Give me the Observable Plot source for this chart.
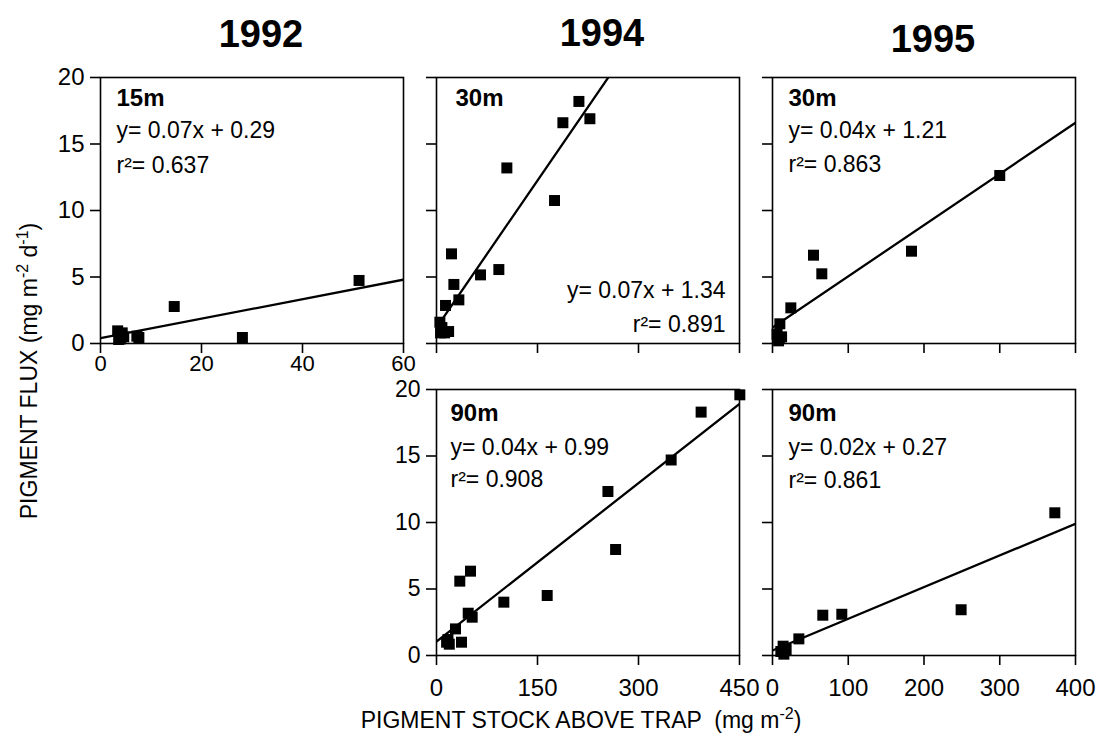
<!DOCTYPE html>
<html>
<head>
<meta charset="utf-8">
<script src="https://cdn.jsdelivr.net/npm/d3@7"></script>
<script src="https://cdn.jsdelivr.net/npm/@observablehq/plot@0.6"></script>
<style>
  html, body { margin: 0; padding: 0; background: #fff; }
  #wrap { position: relative; width: 1096px; height: 744px; overflow: hidden; background: #fff; }
  #wrap > svg { position: absolute; }
</style>
</head>
<body>
<div id="wrap"></div>
<script>
// ---------------- data ----------------
const years = ["1992", "1994", "1995"];
const depths = ["15m", "30m", "30m", "90m", "90m"];
const eqLabels = ["y= 0.07x + 0.29", "y= 0.07x + 1.34", "y= 0.04x + 1.21", "y= 0.04x + 0.99", "y= 0.02x + 0.27"];
const r2Labels = ["r\u00B2= 0.637", "r\u00B2= 0.891", "r\u00B2= 0.863", "r\u00B2= 0.908", "r\u00B2= 0.861"];
const yTicks = [0, 5, 10, 15, 20];
const xTicks1992 = [0, 20, 40, 60];
const xTicks1994 = [0, 150, 300, 450];
const xTicks1995 = [0, 100, 200, 300, 400];

// 1992, 15 m
const stock1992_15 = [3.4, 3.8, 4.0, 4.3, 4.6, 3.6, 7.2, 7.6, 14.6, 28.1, 51.2];
const flux1992_15  = [0.95, 0.6, 0.35, 0.8, 0.5, 0.3, 0.55, 0.45, 2.78, 0.45, 4.74];
// 1994, 30 m
const stock1994_30 = [211.5, 187.7, 227.8, 104.5, 175.3, 22.3, 92.6, 65.4, 25.8, 33.2, 13.4, 5, 8, 6, 12, 18];
const flux1994_30  = [18.2, 16.6, 16.9, 13.2, 10.75, 6.74, 5.56, 5.16, 4.44, 3.28, 2.86, 1.6, 1.2, 0.8, 0.8, 0.9];
// 1995, 30 m
const stock1995_30 = [300, 183.5, 54.1, 65.1, 24.2, 9.7, 6, 9, 12, 8];
const flux1995_30  = [12.63, 6.94, 6.64, 5.24, 2.68, 1.48, 0.7, 0.4, 0.5, 0.2];
// 1994, 90 m
const stock1994_90 = [450.5, 393, 348.5, 254.6, 266, 50.5, 34.6, 164.4, 100, 47.1, 53, 28.2, 37.1, 17, 19, 15];
const flux1994_90  = [19.6, 18.3, 14.7, 12.33, 7.97, 6.34, 5.59, 4.51, 4.01, 3.18, 2.88, 2.0, 1.0, 1.2, 0.85, 1.0];
// 1995, 90 m
const stock1995_90 = [372.7, 249, 91.5, 66.4, 34.8, 14, 18, 15, 11];
const flux1995_90  = [10.73, 3.44, 3.1, 3.03, 1.25, 0.7, 0.45, 0.1, 0.3];

// regression lines as drawn (intercept, slope)
const fitIntercept = [0.40, 1.20, 1.20, 1.05, 0.38];
const fitSlope     = [0.0733, 0.0737, 0.0385, 0.0397, 0.0238];

// ---------------- layout ----------------
const FONT = "'Liberation Sans', Arial, Helvetica, sans-serif";
const W = 303, H = 266, ML = 70, MR = 14, MT = 12, MB = 50;

const panels = [
  {xs: stock1992_15, ys: flux1992_15, ticks: xTicks1992, left: 100, top: 77, showX: true,  showY: true,  xPad: 2,  xFont: 22, yFont: 24, ax: 16, a: [28, 60, 95], eqBR: false},
  {xs: stock1994_30, ys: flux1994_30, ticks: xTicks1994, left: 436, top: 77, showX: false, showY: false, xPad: 2,  xFont: 22, yFont: 24, ax: 19, a: [28, 46, 12], eqBR: true},
  {xs: stock1995_30, ys: flux1995_30, ticks: xTicks1995, left: 772, top: 77, showX: false, showY: false, xPad: 2,  xFont: 22, yFont: 24, ax: 16, a: [28, 60, 94], eqBR: false},
  {xs: stock1994_90, ys: flux1994_90, ticks: xTicks1994, left: 436, top: 389, showX: true, showY: true,  xPad: 13, xFont: 24, yFont: 23, ax: 14, a: [31, 65, 97], eqBR: false},
  {xs: stock1995_90, ys: flux1995_90, ticks: xTicks1995, left: 772, top: 389, showX: true, showY: false, xPad: 13, xFont: 24, yFont: 23, ax: 16, a: [31, 65, 98], eqBR: false}
];

const wrap = document.getElementById("wrap");

// overlay with titles and axis labels
const NS = "http://www.w3.org/2000/svg";
const over = document.createElementNS(NS, "svg");
over.setAttribute("width", 1096);
over.setAttribute("height", 744);
over.style.left = "0px"; over.style.top = "0px";
over.setAttribute("font-family", FONT);
const titlePos = [[261, 46.5], [602, 45.5], [933, 52]];
years.forEach((t, i) => {
  const el = document.createElementNS(NS, "text");
  el.setAttribute("x", titlePos[i][0]);
  el.setAttribute("y", titlePos[i][1]);
  el.setAttribute("text-anchor", "middle");
  el.setAttribute("font-size", 38);
  el.setAttribute("font-weight", "bold");
  el.textContent = t;
  over.appendChild(el);
});
function addLabel(parts, x, y, rotate) {
  const el = document.createElementNS(NS, "text");
  el.setAttribute("text-anchor", "middle");
  el.setAttribute("font-size", 23);
  el.setAttribute("style", "white-space: pre");
  if (rotate) el.setAttribute("transform", `translate(${x},${y}) rotate(-90)`);
  else el.setAttribute("transform", `translate(${x},${y})`);
  let shift = 0;
  parts.forEach(([txt, sup]) => {
    const ts = document.createElementNS(NS, "tspan");
    const target = sup ? -9 : 0;
    ts.setAttribute("dy", target - shift);
    shift = target;
    if (sup) ts.setAttribute("font-size", 16);
    ts.textContent = txt;
    el.appendChild(ts);
  });
  over.appendChild(el);
}
addLabel([["PIGMENT STOCK ABOVE TRAP  (mg m", false], ["-2", true], [")", false]], 581, 728, false);
addLabel([["PIGMENT FLUX (mg m", false], ["-2", true], [" d", false], ["-1", true], [")", false]], 37, 371, true);
wrap.appendChild(over);

panels.forEach((p, i) => {
  const pts = p.xs.map((x, j) => ({x, y: p.ys[j]}));
  const xmax = p.ticks[p.ticks.length - 1];
  const fit = [0, xmax].map(x => ({x, y: fitIntercept[i] + fitSlope[i] * x}));
  const marks = [
    Plot.frame({stroke: "black", strokeWidth: 1.6}),
    Plot.axisX({ticks: p.ticks, tickSize: 10, tickPadding: p.xPad, strokeWidth: 1.6, label: null, fontSize: p.xFont,
      tickFormat: p.showX ? (d => String(d)) : (() => "")}),
    Plot.axisY({ticks: yTicks, tickSize: 10, tickPadding: 6, strokeWidth: 1.6, label: null, fontSize: p.yFont,
      tickFormat: p.showY ? (d => String(d)) : (() => "")}),
    Plot.line(fit, {x: "x", y: "y", stroke: "black", strokeWidth: 2.3, clip: true}),
    Plot.dot(pts, {x: "x", y: "y", symbol: "square", fill: "black", stroke: "none", r: 6.2}),
    Plot.text([depths[i]], {text: d => d, frameAnchor: "top-left", textAnchor: "start", lineAnchor: "bottom",
      dx: p.ax, dy: p.a[0], fontWeight: "bold", fontSize: 24, fill: "black"})
  ];
  if (p.eqBR) {
    marks.push(Plot.text([eqLabels[i]], {text: d => d, frameAnchor: "bottom-right", textAnchor: "end", lineAnchor: "bottom",
      dx: -14, dy: -p.a[1], fontSize: 23, fill: "black"}));
    marks.push(Plot.text([r2Labels[i]], {text: d => d, frameAnchor: "bottom-right", textAnchor: "end", lineAnchor: "bottom",
      dx: -14, dy: -p.a[2], fontSize: 23, fill: "black"}));
  } else {
    marks.push(Plot.text([eqLabels[i]], {text: d => d, frameAnchor: "top-left", textAnchor: "start", lineAnchor: "bottom",
      dx: p.ax, dy: p.a[1], fontSize: 23, fill: "black"}));
    marks.push(Plot.text([r2Labels[i]], {text: d => d, frameAnchor: "top-left", textAnchor: "start", lineAnchor: "bottom",
      dx: p.ax, dy: p.a[2], fontSize: 23, fill: "black"}));
  }
  const chart = Plot.plot({
    width: W + ML + MR,
    height: H + MT + MB,
    marginLeft: ML, marginRight: MR, marginTop: MT, marginBottom: MB,
    x: {domain: [0, xmax]},
    y: {domain: [0, 20]},
    style: {fontFamily: FONT, fontSize: "24px", color: "black", background: "transparent", overflow: "visible"},
    marks
  });
  chart.style.left = (p.left - ML) + "px";
  chart.style.top = (p.top - MT) + "px";
  chart.style.position = "absolute";
  wrap.appendChild(chart);
});
</script>
</body>
</html>
